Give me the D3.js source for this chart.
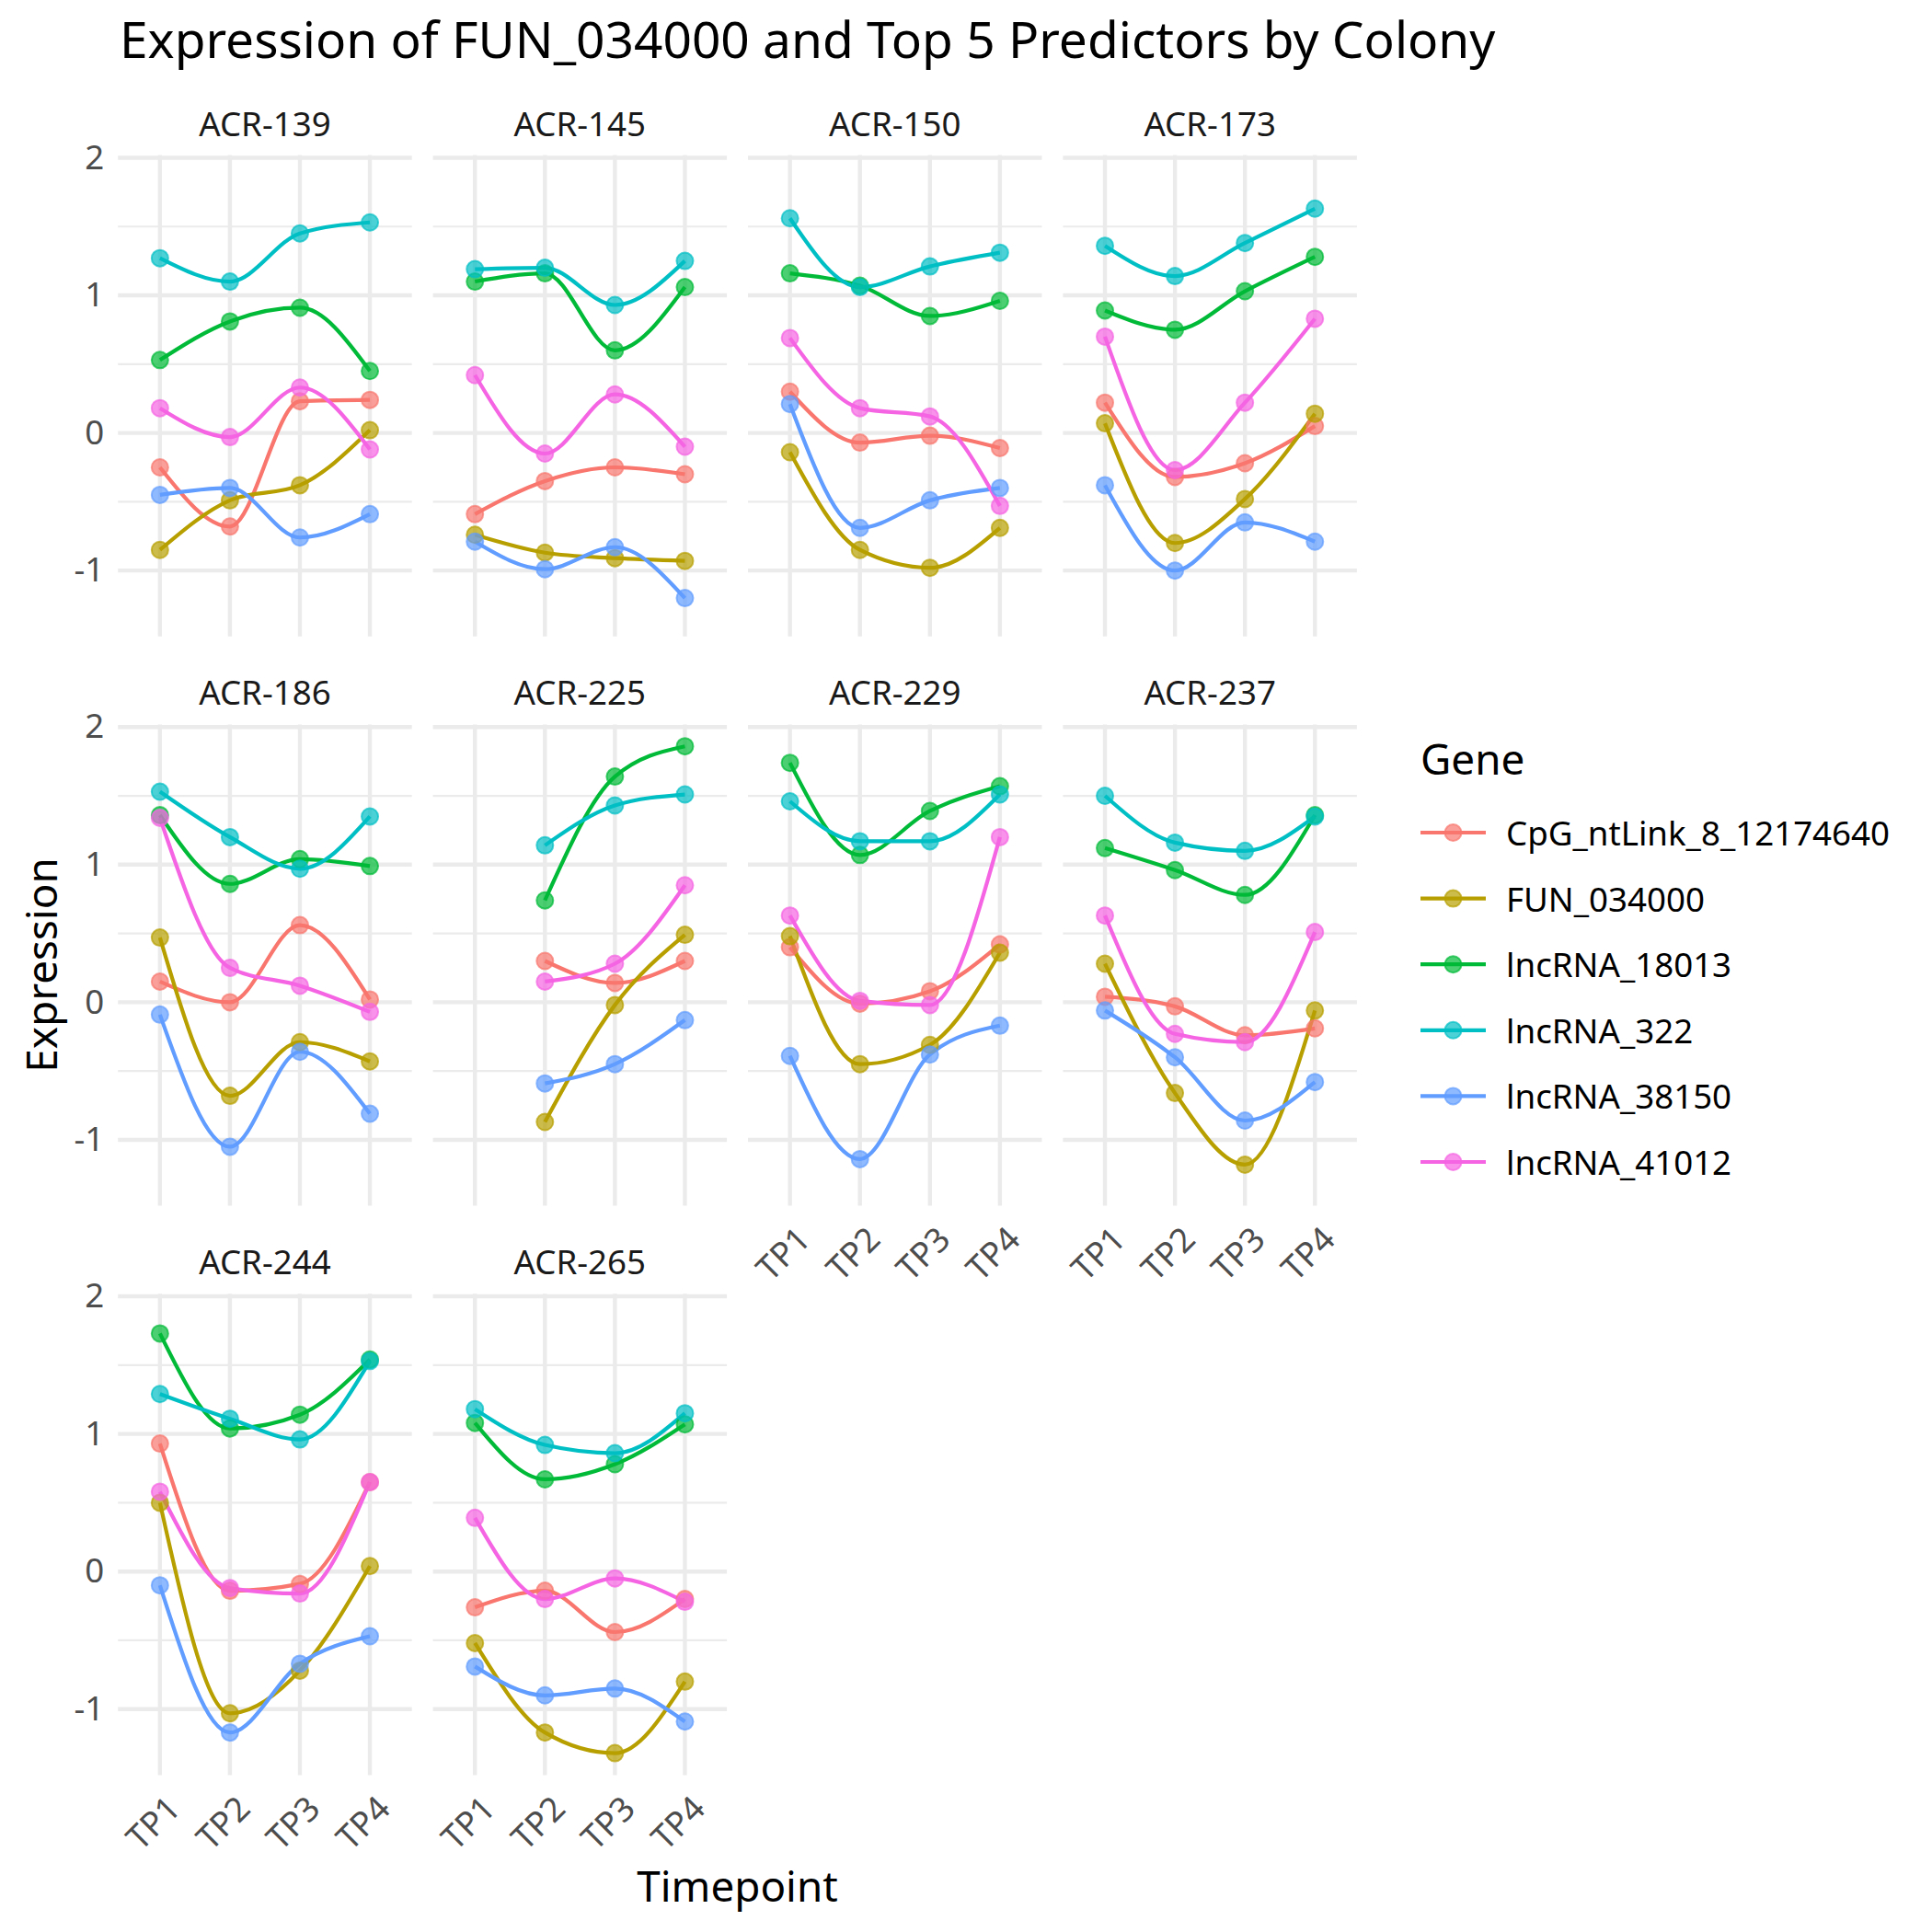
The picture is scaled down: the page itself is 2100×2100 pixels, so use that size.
<!DOCTYPE html>
<html>
<head>
<meta charset="utf-8">
<script src="https://cdn.jsdelivr.net/npm/d3@7"></script>
<style>
  html, body { margin: 0; padding: 0; background: #ffffff; }
  svg { display: block; font-family: "Noto Sans", "Open Sans", sans-serif; }
</style>
</head>
<body>
<svg id="chart" width="2100" height="2100"></svg>
<script>
// ---------------- DATA ----------------
const timepoints = ["TP1", "TP2", "TP3", "TP4"];
const colonies = ["ACR-139", "ACR-145", "ACR-150", "ACR-173", "ACR-186",
                  "ACR-225", "ACR-229", "ACR-237", "ACR-244", "ACR-265"];
const genes = ["CpG_ntLink_8_12174640", "FUN_034000", "lncRNA_18013",
               "lncRNA_322", "lncRNA_38150", "lncRNA_41012"];
const geneColors = ["#F8766D", "#B79F00", "#00BA38", "#00BFC4", "#619CFF", "#F564E3"];

// one row per colony (same order as colonies), one value per timepoint
const CpG_ntLink_8_12174640 = [
  [-0.25, -0.68, 0.23, 0.24],
  [-0.59, -0.35, -0.25, -0.30],
  [0.30, -0.07, -0.02, -0.11],
  [0.22, -0.32, -0.22, 0.05],
  [0.15, 0.00, 0.56, 0.02],
  [null, 0.30, 0.14, 0.30],
  [0.40, -0.01, 0.08, 0.42],
  [0.04, -0.03, -0.24, -0.19],
  [0.93, -0.14, -0.09, 0.65],
  [-0.26, -0.14, -0.44, -0.20]
];
const FUN_034000 = [
  [-0.85, -0.49, -0.38, 0.02],
  [-0.74, -0.87, -0.91, -0.93],
  [-0.14, -0.85, -0.98, -0.69],
  [0.07, -0.80, -0.48, 0.14],
  [0.47, -0.68, -0.29, -0.43],
  [null, -0.87, -0.02, 0.49],
  [0.48, -0.45, -0.31, 0.36],
  [0.28, -0.66, -1.18, -0.06],
  [0.50, -1.03, -0.72, 0.04],
  [-0.52, -1.17, -1.32, -0.80]
];
const lncRNA_18013 = [
  [0.53, 0.81, 0.91, 0.45],
  [1.10, 1.16, 0.60, 1.06],
  [1.16, 1.07, 0.85, 0.96],
  [0.89, 0.75, 1.03, 1.28],
  [1.36, 0.86, 1.04, 0.99],
  [null, 0.74, 1.64, 1.86],
  [1.74, 1.07, 1.39, 1.57],
  [1.12, 0.96, 0.78, 1.36],
  [1.73, 1.04, 1.14, 1.54],
  [1.08, 0.67, 0.78, 1.07]
];
const lncRNA_322 = [
  [1.27, 1.10, 1.45, 1.53],
  [1.19, 1.20, 0.93, 1.25],
  [1.56, 1.06, 1.21, 1.31],
  [1.36, 1.14, 1.38, 1.63],
  [1.53, 1.20, 0.97, 1.35],
  [null, 1.14, 1.43, 1.51],
  [1.46, 1.17, 1.17, 1.51],
  [1.50, 1.16, 1.10, 1.35],
  [1.29, 1.11, 0.96, 1.53],
  [1.18, 0.92, 0.86, 1.15]
];
const lncRNA_38150 = [
  [-0.45, -0.40, -0.76, -0.59],
  [-0.79, -0.99, -0.83, -1.20],
  [0.21, -0.69, -0.49, -0.40],
  [-0.38, -1.00, -0.65, -0.79],
  [-0.09, -1.05, -0.36, -0.81],
  [null, -0.59, -0.45, -0.13],
  [-0.39, -1.14, -0.38, -0.17],
  [-0.06, -0.40, -0.86, -0.58],
  [-0.10, -1.17, -0.67, -0.47],
  [-0.69, -0.90, -0.85, -1.09]
];
const lncRNA_41012 = [
  [0.18, -0.03, 0.33, -0.12],
  [0.42, -0.15, 0.28, -0.10],
  [0.69, 0.18, 0.12, -0.53],
  [0.70, -0.27, 0.22, 0.83],
  [1.34, 0.25, 0.12, -0.07],
  [null, 0.15, 0.28, 0.85],
  [0.63, 0.01, -0.02, 1.20],
  [0.63, -0.23, -0.29, 0.51],
  [0.58, -0.12, -0.16, 0.65],
  [0.39, -0.20, -0.05, -0.22]
];
const yTicks = [-1, 0, 1, 2];

const geneValues = [CpG_ntLink_8_12174640, FUN_034000, lncRNA_18013,
                    lncRNA_322, lncRNA_38150, lncRNA_41012];

// ---------------- LAYOUT ----------------
const W = 2100, H = 2100;
const nCols = 4;
const panelLeft0 = 128.2;
const panelW = 319.5;
const gapX = 22.9;
const panelTop0 = 168.6;
const panelH = 523.2;
const rowStep = 618.8;

const svg = d3.select("#chart");
svg.append("rect").attr("width", W).attr("height", H).attr("fill", "#ffffff");

const x = d3.scalePoint().domain(timepoints).range([0, panelW]).padding(0.6);
const allVals = geneValues.flat(2).filter(v => v != null);
const [vMin, vMax] = d3.extent(allVals);
const pad = (vMax - vMin) * 0.05;
const y = d3.scaleLinear().domain([vMin - pad, vMax + pad]).range([panelH, 0]);

// minor breaks: midpoints between majors, inside domain
const minor = [];
for (let i = 0; i < yTicks.length - 1; i++) minor.push((yTicks[i] + yTicks[i + 1]) / 2);
const stepT = yTicks[1] - yTicks[0];
if (yTicks[0] - stepT / 2 >= y.domain()[0]) minor.unshift(yTicks[0] - stepT / 2);
if (yTicks[yTicks.length - 1] + stepT / 2 <= y.domain()[1]) minor.push(yTicks[yTicks.length - 1] + stepT / 2);

const gridCol = "#EBEBEB";
const nRows = Math.ceil(colonies.length / nCols);

const line = d3.line()
  .defined(d => d.v != null)
  .x(d => x(d.t))
  .y(d => y(d.v))
  .curve(d3.curveMonotoneX);

colonies.forEach((col, ci) => {
  const r = Math.floor(ci / nCols), c = ci % nCols;
  const px = panelLeft0 + c * (panelW + gapX);
  const py = panelTop0 + r * rowStep;
  const g = svg.append("g").attr("transform", `translate(${px},${py})`);

  // minor grid
  g.selectAll(".minor").data(minor).enter().append("line")
    .attr("x1", 0).attr("x2", panelW)
    .attr("y1", d => y(d)).attr("y2", d => y(d))
    .attr("stroke", gridCol).attr("stroke-width", 2.2);
  // major grid
  g.selectAll(".majorY").data(yTicks).enter().append("line")
    .attr("x1", 0).attr("x2", panelW)
    .attr("y1", d => y(d)).attr("y2", d => y(d))
    .attr("stroke", gridCol).attr("stroke-width", 4.4);
  g.selectAll(".majorX").data(timepoints).enter().append("line")
    .attr("x1", d => x(d)).attr("x2", d => x(d))
    .attr("y1", 0).attr("y2", panelH)
    .attr("stroke", gridCol).attr("stroke-width", 4.4);

  // strip label
  svg.append("text")
    .attr("x", px + panelW / 2).attr("y", py - 35)
    .attr("text-anchor", "middle").attr("dominant-baseline", "central")
    .attr("font-size", 36.7).attr("fill", "#1A1A1A")
    .text(col);

  // lines
  genes.forEach((gn, gi) => {
    const pts = timepoints.map((t, ti) => ({ t, v: geneValues[gi][ci][ti] }));
    g.append("path").datum(pts)
      .attr("d", line)
      .attr("fill", "none")
      .attr("stroke", geneColors[gi])
      .attr("stroke-width", 4.2)
      .attr("stroke-linejoin", "round")
      .attr("stroke-linecap", "butt");
  });
  // points
  genes.forEach((gn, gi) => {
    const pts = timepoints.map((t, ti) => ({ t, v: geneValues[gi][ci][ti] }))
      .filter(d => d.v != null);
    g.selectAll(null).data(pts).enter().append("circle")
      .attr("cx", d => x(d.t)).attr("cy", d => y(d.v))
      .attr("r", 9)
      .attr("fill", geneColors[gi]).attr("fill-opacity", 0.7)
      .attr("stroke", geneColors[gi]).attr("stroke-opacity", 0.7)
      .attr("stroke-width", 2);
  });

  // y axis labels on first column
  if (c === 0) {
    const ax = g.append("g").call(
      d3.axisLeft(y).tickValues(yTicks).tickSize(0).tickPadding(15).tickFormat(d => String(d))
    );
    ax.select(".domain").remove();
    ax.selectAll("text").attr("font-size", 36.7).attr("fill", "#4D4D4D")
      .attr("font-family", "Noto Sans, Open Sans, sans-serif");
  }
  // x axis labels when no panel below
  const below = ci + nCols;
  if (below >= colonies.length) {
    const ax = g.append("g").attr("transform", `translate(0,${panelH})`).call(
      d3.axisBottom(x).tickSize(0).tickPadding(0)
    );
    ax.select(".domain").remove();
    ax.selectAll("text")
      .attr("font-size", 36.7).attr("fill", "#4D4D4D")
      .attr("font-family", "Noto Sans, Open Sans, sans-serif")
      .attr("text-anchor", "end")
      .attr("x", 0).attr("y", 0).attr("dy", "0.72em")
      .attr("transform", "translate(5,20) rotate(-45)");
  }
});

// Title
svg.append("text")
  .attr("x", 130).attr("y", 63)
  .attr("font-size", 55).attr("fill", "#000000")
  .text("Expression of FUN_034000 and Top 5 Predictors by Colony");

// axis titles
const panelsRight = panelLeft0 + nCols * panelW + (nCols - 1) * gapX;
const panelsBottom = panelTop0 + (nRows - 1) * rowStep + panelH;
svg.append("text")
  .attr("x", (panelLeft0 + panelsRight) / 2).attr("y", 2049)
  .attr("text-anchor", "middle").attr("dominant-baseline", "central")
  .attr("font-size", 45.8).attr("fill", "#000000")
  .text("Timepoint");
svg.append("text")
  .attr("transform", `translate(44,${(panelTop0 + panelsBottom) / 2}) rotate(-90)`)
  .attr("text-anchor", "middle").attr("dominant-baseline", "central")
  .attr("font-size", 45.8).attr("fill", "#000000")
  .text("Expression");

// Legend
const lg = svg.append("g").attr("transform", "translate(1544,0)");
lg.append("text").attr("x", 0).attr("y", 824)
  .attr("dominant-baseline", "central")
  .attr("font-size", 45.8).attr("fill", "#000000").text("Gene");
genes.forEach((gn, gi) => {
  const cy = 905 + gi * 71.6;
  lg.append("line").attr("x1", 0).attr("x2", 71).attr("y1", cy).attr("y2", cy)
    .attr("stroke", geneColors[gi]).attr("stroke-width", 4.2);
  lg.append("circle").attr("cx", 35.5).attr("cy", cy).attr("r", 9)
    .attr("fill", geneColors[gi]).attr("fill-opacity", 0.7)
    .attr("stroke", geneColors[gi]).attr("stroke-opacity", 0.7).attr("stroke-width", 2);
  lg.append("text").attr("x", 93).attr("y", cy)
    .attr("dominant-baseline", "central")
    .attr("font-size", 36.7).attr("fill", "#000000").text(gn);
});
</script>
</body>
</html>
